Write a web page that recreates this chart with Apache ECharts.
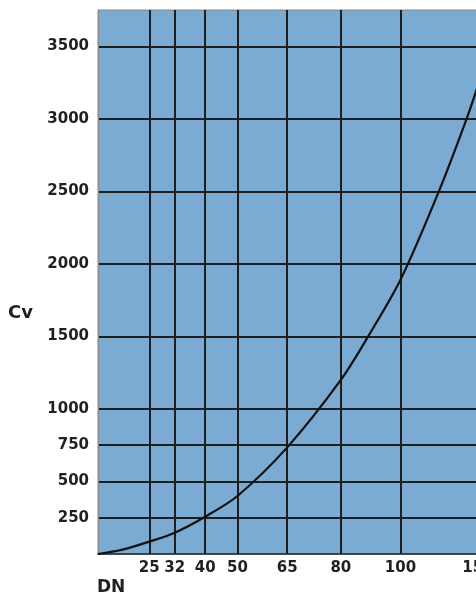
<!DOCTYPE html>
<html>
<head>
<meta charset="utf-8">
<script src="https://cdn.jsdelivr.net/npm/echarts@6/dist/echarts.min.js"></script>
<style>
  html, body { margin: 0; padding: 0; background: #ffffff; }
  #chart { width: 476px; height: 599px; }
</style>
</head>
<body>
<div id="chart"></div>
<script>
// DN sizes shown on the x axis and their place on the reference's non-uniform DN scale
const dnLabels = ['25', '32', '40', '50', '65', '80', '100', '150'];
const dnScale = [13.5, 20.2, 28.2, 36.7, 49.8, 63.9, 79.6, 100];
// Points: position on the DN scale and Cv value
const curvePos = [0, 6.2, 13.5, 20.2, 28.2, 36.7, 49.8, 63.9, 71.1, 79.6, 89.7, 97.0, 100];
const curveCv  = [0, 28, 85, 147, 257, 400, 735, 1200, 1500, 1890, 2500, 3000, 3230];
// Cv tick labels on the y axis
const cvTicks = [250, 500, 750, 1000, 1500, 2000, 2500, 3000, 3500];

const curveData = curvePos.map((p, i) => [p, curveCv[i]]);

const labelFont = {
  color: '#231f20',
  fontFamily: 'DejaVu Sans',
  fontWeight: 'bold',
  fontSize: 15
};
const gridLine = { color: '#1e1e1e', width: 2 };

const chart = echarts.init(document.getElementById('chart'), null, { renderer: 'canvas' });
chart.setOption({
  animation: false,
  backgroundColor: '#ffffff',
  grid: {
    left: 98, right: -2, top: 10, bottom: 45,
    containLabel: false,
    outerBoundsMode: 'none',
    show: true,
    backgroundColor: '#7baad2',
    borderColor: '#8a8a8a',
    borderWidth: 1
  },
  xAxis: {
    type: 'value',
    min: 0,
    max: 100,
    axisLine: { show: true, onZero: false, lineStyle: { color: '#222', width: 1.5 } },
    axisTick: { show: false, customValues: dnScale },
    axisLabel: Object.assign({
      customValues: dnScale,
      margin: 7,
      hideOverlap: false,
      formatter: v => dnLabels[dnScale.indexOf(v)]
    }, labelFont),
    splitLine: { show: true, lineStyle: gridLine }
  },
  yAxis: {
    type: 'value',
    min: 0,
    max: 3750,
    axisLine: { show: true, lineStyle: { color: '#8a8a8a', width: 1 } },
    axisTick: { show: false, customValues: cvTicks },
    axisLabel: Object.assign({
      customValues: cvTicks,
      margin: 9,
      formatter: v => String(v)
    }, labelFont),
    splitLine: { show: true, lineStyle: gridLine }
  },
  graphic: [
    {
      type: 'text', left: 8, top: 304,
      style: { text: 'Cv', fill: '#231f20', font: 'bold 18px "DejaVu Sans"' }
    },
    {
      type: 'text', left: 97, top: 579,
      style: { text: 'DN', fill: '#231f20', font: 'bold 17px "DejaVu Sans"' }
    }
  ],
  series: [{
    type: 'line',
    data: curveData,
    smooth: 0.3,
    symbol: 'none',
    clip: true,
    lineStyle: { color: '#111111', width: 2.2 },
    z: 5
  }]
});
</script>
</body>
</html>
